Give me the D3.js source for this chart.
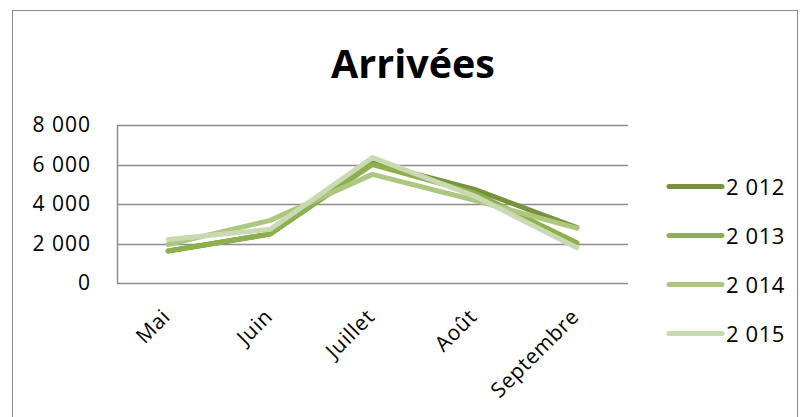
<!DOCTYPE html>
<html><head><meta charset="utf-8">
<script src="https://cdn.jsdelivr.net/npm/d3@7"></script>
<style>body{margin:0;background:#fff}svg{display:block}</style>
</head><body>
<svg id="c" width="804" height="417"></svg>
<script>
const categories = ["Mai","Juin","Juillet","Août","Septembre"];
const seriesNames = ["2 012","2 013","2 014","2 015"];
const s2012 = [1620, 2480, 6090, 4740, 2800];
const s2013 = [1620, 2480, 6000, 4560, 2040];
const s2014 = [1950, 3170, 5500, 4190, 2780];
const s2015 = [2200, 2720, 6350, 4400, 1790];
const yTicks = [0, 2000, 4000, 6000, 8000];
const colors = ["#76923c", "#8db04e", "#acc77f", "#c9dab2"];
const allSeries = [s2012, s2013, s2014, s2015];

(function(){
const svg = d3.select("#c");
svg.append("rect").attr("x",12.5).attr("y",10.5).attr("width",785).attr("height",420)
  .attr("fill","#fff").attr("stroke","#888").attr("stroke-width",1);

const pL = 117, pR = 628, pT = 125, pB = 283;
const x = d3.scalePoint().domain(categories).range([pL, pR]).padding(0.5);
const y = d3.scaleLinear().domain([0, 8000]).range([pB, pT]);
const fmt = v => d3.format(",")(v).replace(/,/g, " ");
const FF = "'Open Sans', sans-serif";

svg.append("text").attr("x", 413).attr("y", 78).attr("text-anchor","middle")
  .attr("font-family",FF).attr("font-weight","bold")
  .attr("font-size", 39.5).attr("fill","#000").text("Arrivées");

const grid = svg.append("g");
yTicks.forEach(t => {
  grid.append("line").attr("x1", pL).attr("x2", pR)
    .attr("y1", Math.round(y(t))+0.5).attr("y2", Math.round(y(t))+0.5)
    .attr("stroke","#8c8c8c").attr("stroke-width",1.5);
});
grid.append("line").attr("x1", pL+0.5).attr("x2", pL+0.5).attr("y1", pT).attr("y2", pB)
  .attr("stroke","#8c8c8c").attr("stroke-width",1.5);

const yAxis = d3.axisLeft(y).tickValues(yTicks).tickFormat(fmt).tickSize(0).tickPadding(26);
const ga = svg.append("g").attr("transform", `translate(${pL},0)`).call(yAxis);
ga.select(".domain").remove();
ga.selectAll("text").attr("font-family",FF).attr("font-size",21).attr("letter-spacing","1px").attr("fill","#000");

const xAxis = d3.axisBottom(x).tickSize(0).tickPadding(0);
const gx = svg.append("g").attr("transform", `translate(0,${pB})`).call(xAxis);
gx.select(".domain").remove();
gx.selectAll("text").attr("font-family",FF).attr("font-size",21).attr("letter-spacing","0.7px").attr("fill","#000")
  .attr("text-anchor","end").attr("dy",0).attr("transform","translate(3,35) rotate(-45)");

const line = d3.line().x((d,i) => x(categories[i])).y(d => y(d));
allSeries.forEach((s, k) => {
  svg.append("path").datum(s).attr("d", line).attr("fill","none")
    .attr("stroke", colors[k]).attr("stroke-width",5).attr("stroke-linejoin","round").attr("stroke-linecap","round");
});

seriesNames.forEach((n, k) => {
  const ly = 186.5 + k*49;
  svg.append("line").attr("x1",669).attr("x2",722).attr("y1",ly).attr("y2",ly)
    .attr("stroke", colors[k]).attr("stroke-width",5).attr("stroke-linecap","round");
  svg.append("text").attr("x",726).attr("y",ly+8).attr("font-family",FF)
    .attr("font-size",22).attr("letter-spacing","0.6px").attr("fill","#000").text(n);
});
})();
</script>
</body></html>
